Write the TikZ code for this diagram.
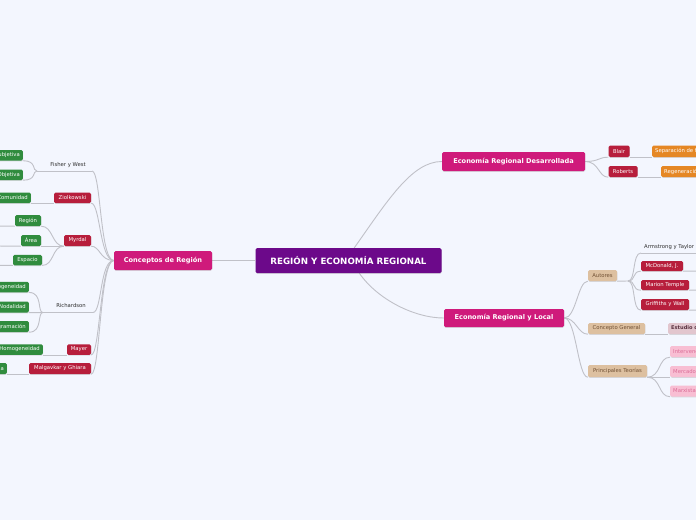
\documentclass[tikz,border=0pt]{standalone}
\usepackage{fontspec}
\setmainfont{DejaVu Sans}
\usetikzlibrary{shadows,backgrounds}
\definecolor{bgc}{RGB}{243,246,254}
\definecolor{purp}{RGB}{108,9,138}
\definecolor{magc}{RGB}{207,26,123}
\definecolor{redc}{RGB}{183,30,60}
\definecolor{grnc}{RGB}{48,140,62}
\definecolor{orgc}{RGB}{229,135,36}
\definecolor{tanc}{RGB}{221,192,160}
\definecolor{tant}{RGB}{112,80,52}
\definecolor{mauc}{RGB}{226,198,206}
\definecolor{maut}{RGB}{92,52,66}
\definecolor{pnkc}{RGB}{248,190,211}
\definecolor{pnkt}{RGB}{218,108,150}
\definecolor{linec}{RGB}{192,193,200}
\definecolor{txtc}{RGB}{45,45,45}
\tikzset{
  conn/.style={draw=linec, line width=0.9pt},
  box/.style={rounded corners=1.5pt, inner sep=0pt, text=white,
    drop shadow={shadow xshift=0.3pt, shadow yshift=-0.9pt, opacity=0.25}},
  rootbox/.style={box, fill=purp, minimum width=186pt, minimum height=25pt,
    font=\fontsize{8.7}{10}\selectfont\bfseries},
  mainbox/.style={box, fill=magc, minimum height=19pt,
    font=\fontsize{6.6}{8}\selectfont\bfseries},
  small/.style={box, minimum height=10.5pt, font=\fontsize{5.3}{6}\selectfont},
  redbox/.style={small, fill=redc},
  grnbox/.style={small, fill=grnc, inner xsep=3pt},
  orgbox/.style={small, fill=orgc, inner xsep=3pt},
  tanbox/.style={small, fill=tanc, text=tant},
  maubox/.style={small, fill=mauc, text=maut, inner xsep=3pt, font=\fontsize{5.1}{6}\selectfont\bfseries},
  pnkbox/.style={small, fill=pnkc, text=pnkt, inner xsep=3pt},
  plain/.style={inner sep=0pt, text=txtc, font=\fontsize{5.3}{6}\selectfont},
}
\begin{document}
\begin{tikzpicture}[x=1pt,y=-1pt]
\useasboundingbox (0,0) rectangle (696,520);

% main nodes
\node[rootbox] (root) at (348.5,260.5) {REGIÓN Y ECONOMÍA REGIONAL};
\node[mainbox, minimum width=98pt] (conc) at (163,260.5) {Conceptos de Región};
\node[mainbox, minimum width=143pt] (desa) at (513.5,161.5) {Economía Regional Desarrollada};
\node[mainbox, minimum width=120pt, minimum height=18pt] (local) at (504,318) {Economía Regional y Local};

% left side
\node[plain] (fw) at (68,165) {Fisher y West};
\coordinate (fwL) at (37,171);
\coordinate (fwR) at (92,171);
\node[grnbox, anchor=east] (g1) at (23,155.25) {Subjetiva};
\node[grnbox, anchor=east] (g2) at (23,174.75) {Objetiva};
\node[redbox, minimum width=37pt] (zio) at (72.5,197.75) {Ziolkowski};
\node[grnbox, anchor=east] (com) at (31,197.75) {Comunidad};
\node[redbox, minimum width=27pt, minimum height=11pt] (myr) at (77.5,240.5) {Myrdal};
\node[grnbox, minimum width=26pt, minimum height=11pt, inner xsep=0pt] (reg) at (28,220.5) {Región};
\node[grnbox, minimum width=20pt, minimum height=11pt, inner xsep=0pt] (area) at (31,240.5) {Área};
\node[grnbox, minimum width=29pt, inner xsep=0pt] (esp) at (27.5,260) {Espacio};
\coordinate (regX) at (-5,226);
\coordinate (areaX) at (-5,246);
\coordinate (espX) at (-5,265.25);
\node[plain] (rich) at (71,306) {Richardson};
\coordinate (rL) at (43,312.5);
\coordinate (rR) at (93,312.5);
\node[grnbox, anchor=east] (h1) at (29,287) {Homogeneidad};
\node[grnbox, anchor=east, minimum height=11pt] (nod) at (29,307) {Nodalidad};
\node[grnbox, anchor=east, minimum height=11pt] (prog) at (29,326.5) {Programación};
\node[redbox, minimum width=24pt] (may) at (79,349.5) {Mayer};
\node[grnbox, anchor=east] (hom2) at (43,349.5) {Homogeneidad};
\node[redbox, minimum width=62pt, minimum height=11pt] (mal) at (60,368.5) {Malgavkar y Ghiara};
\node[grnbox, anchor=east, minimum height=11pt] (mc) at (7,368.5) {Región planificada};

% right upper
\node[redbox, minimum width=21pt, minimum height=11.5pt] (blair) at (619,151.25) {Blair};
\node[orgbox, anchor=west, minimum height=11.5pt] (sep) at (652,151.25) {Separación de funciones};
\node[redbox, minimum width=29pt, minimum height=11pt] (rob) at (623,171.5) {Roberts};
\node[orgbox, anchor=west, minimum height=11pt] (regen) at (661,171.5) {Regeneración urbana};

% right lower
\node[tanbox, minimum width=29pt, minimum height=11pt] (aut) at (602.5,275.5) {Autores};
\node[plain, anchor=west] (arm) at (644,247) {Armstrong y Taylor};
\coordinate (jA) at (628,281);
\coordinate (armL) at (641,253);
\coordinate (armR) at (700,253);
\node[redbox, minimum width=42pt, minimum height=10pt] (mcd) at (662,266) {McDonald, J.};
\node[redbox, minimum width=48pt, minimum height=10pt] (mar) at (665,285) {Marion Temple};
\node[redbox, minimum width=48pt, minimum height=11pt] (gri) at (665,304.5) {Griffiths y Wall};
\coordinate (mcdX) at (700,271);
\coordinate (marX) at (700,290);
\coordinate (griX) at (700,310);
\node[tanbox, minimum width=57pt, minimum height=11pt] (cg) at (616.5,328.5) {Concepto General};
\node[maubox, anchor=west, minimum height=11pt] (est) at (668,328.5) {Estudio de la región};
\node[tanbox, minimum width=59pt, minimum height=12pt] (pt) at (617.5,371) {Principales Teorías};
\node[pnkbox, anchor=west, minimum height=11pt] (int) at (670,351.5) {Intervencionismo};
\node[pnkbox, anchor=west, minimum height=11pt] (mer) at (670,371.5) {Mercado};
\node[pnkbox, anchor=west, minimum height=11pt] (marx) at (670,391) {Marxista};

\begin{scope}[on background layer]
\fill[bgc] (0,0) rectangle (696,520);
% root links
\draw[conn] (root.west) -- (conc.east);
\draw[conn] ([xshift=99pt]root.north west) .. controls (388,200) and (412,161.5) .. (desa.west);
\draw[conn] ([xshift=104pt]root.south west) .. controls (378,300) and (415,318) .. (local.west);
% conceptos fan
\foreach \t in {fwR, zio.south east, myr.south east, rR, may.south east, mal.south east}
  \draw[conn] (conc.west) .. controls +(-14,0) and +(9,0) .. (\t);
% fisher
\draw[conn] (fwL) -- (fwR);
\draw[conn] (fwL) .. controls +(-5,0) and +(14,0) .. (g1.south east);
\draw[conn] (fwL) .. controls +(-5,0) and +(14,0) .. (g2.south east);
% ziolkowski
\draw[conn] (com.south east) -- (zio.south west);
% myrdal
\draw[conn] (myr.south west) -- (area.south east);
\draw[conn] (myr.south west) .. controls +(-12,0) and +(12,0) .. (reg.south east);
\draw[conn] (myr.south west) .. controls +(-12,0) and +(12,0) .. (esp.south east);
\draw[conn] (reg.south west) -- (regX);
\draw[conn] (area.south west) -- (areaX);
\draw[conn] (esp.south west) -- (espX);
% richardson
\draw[conn] (rL) -- (rR);
\draw[conn] (rL) .. controls +(-6,0) and +(14,0) .. (h1.south east);
\draw[conn] (rL) -- (nod.south east);
\draw[conn] (rL) .. controls +(-6,0) and +(14,0) .. (prog.south east);
% mayer, malgavkar
\draw[conn] (hom2.south east) -- (may.south west);
\draw[conn] (mc.south east) -- (mal.south west);
% desarrollada
\draw[conn] (desa.east) .. controls +(14,0) and +(-10,0) .. (blair.south west);
\draw[conn] (desa.east) .. controls +(14,0) and +(-10,0) .. (rob.south west);
\draw[conn] (blair.south east) -- (sep.south west);
\draw[conn] (rob.south east) -- (regen.south west);
% local
\foreach \t in {aut.south west, cg.south west, pt.south west}
  \draw[conn] (local.east) .. controls +(12,0) and +(-10,0) .. (\t);
\draw[conn] (aut.south east) -- (jA);
\draw[conn] (jA) .. controls +(8,0) and +(-9,0) .. (armL);
\draw[conn] (armL) -- (armR);
\foreach \t/\u in {mcd/mcdX, mar/marX, gri/griX}{
  \draw[conn] (jA) .. controls +(8,0) and +(-9,0) .. (\t.south west);
  \draw[conn] (\t.south east) -- (\u);
}
\draw[conn] (cg.south east) -- (est.south west);
\draw[conn] (pt.south east) .. controls +(14,0) and +(-12,0) .. (int.south west);
\draw[conn] (pt.south east) -- (mer.south west);
\draw[conn] (pt.south east) .. controls +(14,0) and +(-12,0) .. (marx.south west);
\end{scope}
\end{tikzpicture}
\end{document}
